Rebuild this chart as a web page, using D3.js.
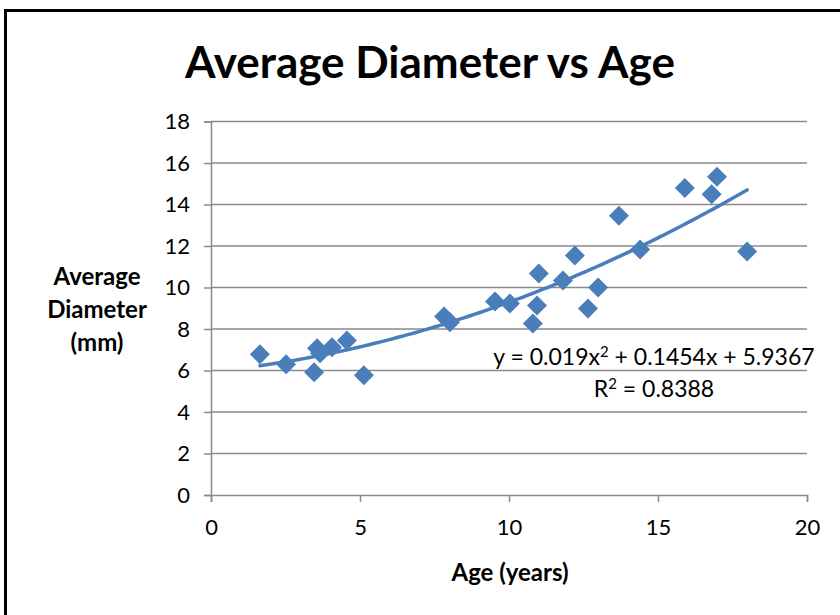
<!DOCTYPE html>
<html>
<head>
<meta charset="utf-8">
<script src="https://cdn.jsdelivr.net/npm/d3@7"></script>
<style>
  html, body { margin: 0; padding: 0; background: #fff; }
  svg { display: block; font-family: Lato, "Open Sans", sans-serif; }
</style>
</head>
<body>
<svg id="chart" width="840" height="615"></svg>
<script>
// Sample ages (years) and measured average diameters (mm)
const ages      = [1.64, 2.52, 3.46, 3.56, 3.66, 4.06, 4.56, 5.13, 7.82, 8.02, 9.53, 10.03,
                   10.8, 10.94, 11.0, 11.81, 12.21, 12.65, 12.99, 13.69, 14.4, 15.9, 16.8, 16.98, 17.99];
const diameters = [6.78, 6.30, 5.91, 7.07, 6.83, 7.12, 7.45, 5.77, 8.60, 8.32, 9.33, 9.23,
                   8.27, 9.13, 10.67, 10.34, 11.54, 8.99, 10.0, 13.46, 11.83, 14.80, 14.50, 15.34, 11.73];

// Polynomial trendline coefficients [a, b, c] for y = a x² + b x + c
const trendCoef = [0.019, 0.1454, 5.9367];
const rSquared = 0.8388;

const xTicks = [0, 5, 10, 15, 20];
const yTicks = [0, 2, 4, 6, 8, 10, 12, 14, 16, 18];

const svg = d3.select("#chart");
const blue = "#4a7ebb";
const grid = "#8a8a8a";
const fontFamily = "Lato, 'Open Sans', sans-serif";

// Outer chart frame
svg.append("rect")
  .attr("x", 5.5).attr("y", 10.5)
  .attr("width", 900).attr("height", 700)
  .attr("fill", "#fff").attr("stroke", "#000").attr("stroke-width", 3);

const x = d3.scaleLinear().domain([0, 20]).range([211, 807]);
const y = d3.scaleLinear().domain([0, 18]).range([495, 121.5]);

// Title
svg.append("text")
  .attr("x", 430).attr("y", 78)
  .attr("text-anchor", "middle")
  .attr("font-weight", "bold").attr("font-size", 44)
  .text("Average Diameter vs Age");

// Horizontal gridlines
svg.append("g").selectAll("line").data(yTicks.filter(d => d > 0)).join("line")
  .attr("x1", x(0)).attr("x2", x(20))
  .attr("y1", d => y(d)).attr("y2", d => y(d))
  .attr("stroke", grid).attr("stroke-width", 1.3);

// Y axis
const yAxis = svg.append("g")
  .attr("transform", `translate(${x(0)},0)`)
  .call(d3.axisLeft(y).tickValues(yTicks).tickSize(7).tickPadding(14));
// X axis
const xAxis = svg.append("g")
  .attr("transform", `translate(0,${y(0)})`)
  .call(d3.axisBottom(x).tickValues(xTicks).tickSize(7).tickPadding(17));

[yAxis, xAxis].forEach(g => {
  g.select(".domain").attr("stroke", grid).attr("stroke-width", 1.5);
  g.selectAll(".tick line").attr("stroke", grid).attr("stroke-width", 1.5);
  g.selectAll(".tick text")
    .attr("font-family", fontFamily)
    .attr("font-size", 22).attr("fill", "#000");
});

// Trendline from the stated polynomial
const [a, b, c] = trendCoef;
const xMin = d3.min(ages), xMax = d3.max(ages);
const trendPts = d3.range(0, 101).map(i => {
  const t = xMin + (xMax - xMin) * i / 100;
  return [t, a * t * t + b * t + c];
});
svg.append("path")
  .datum(trendPts)
  .attr("fill", "none").attr("stroke", blue).attr("stroke-width", 3.5)
  .attr("stroke-linecap", "round")
  .attr("d", d3.line().x(d => x(d[0])).y(d => y(d[1])));

// Diamond markers
const pts = ages.map((v, i) => [v, diameters[i]]);
const r = 10;
svg.append("g").selectAll("path").data(pts).join("path")
  .attr("transform", d => `translate(${x(d[0])},${y(d[1])})`)
  .attr("d", `M0,${-r}L${r},0L0,${r}L${-r},0Z`)
  .attr("fill", blue);

// Trendline equation and R²
const eq = svg.append("text")
  .attr("x", 654).attr("y", 365)
  .attr("text-anchor", "middle").attr("font-size", 23);
eq.append("tspan").text(`y = ${a}x`);
eq.append("tspan").attr("dy", -8).attr("font-size", 15).text("2");
eq.append("tspan").attr("dy", 8).text(` + ${b}x + ${c}`);

const r2 = svg.append("text")
  .attr("x", 654).attr("y", 397)
  .attr("text-anchor", "middle").attr("font-size", 23);
r2.append("tspan").text("R");
r2.append("tspan").attr("dy", -8).attr("font-size", 15).text("2");
r2.append("tspan").attr("dy", 8).text(` = ${rSquared}`);

// Axis titles
const yTitle = svg.append("text")
  .attr("text-anchor", "middle").attr("font-weight", "bold").attr("font-size", 24);
["Average", "Diameter", "(mm)"].forEach((s, i) => {
  yTitle.append("tspan").attr("x", 97).attr("y", 285 + i * 33).text(s);
});

svg.append("text")
  .attr("x", 510).attr("y", 581)
  .attr("text-anchor", "middle").attr("font-weight", "bold").attr("font-size", 24)
  .text("Age (years)");
</script>
</body>
</html>
